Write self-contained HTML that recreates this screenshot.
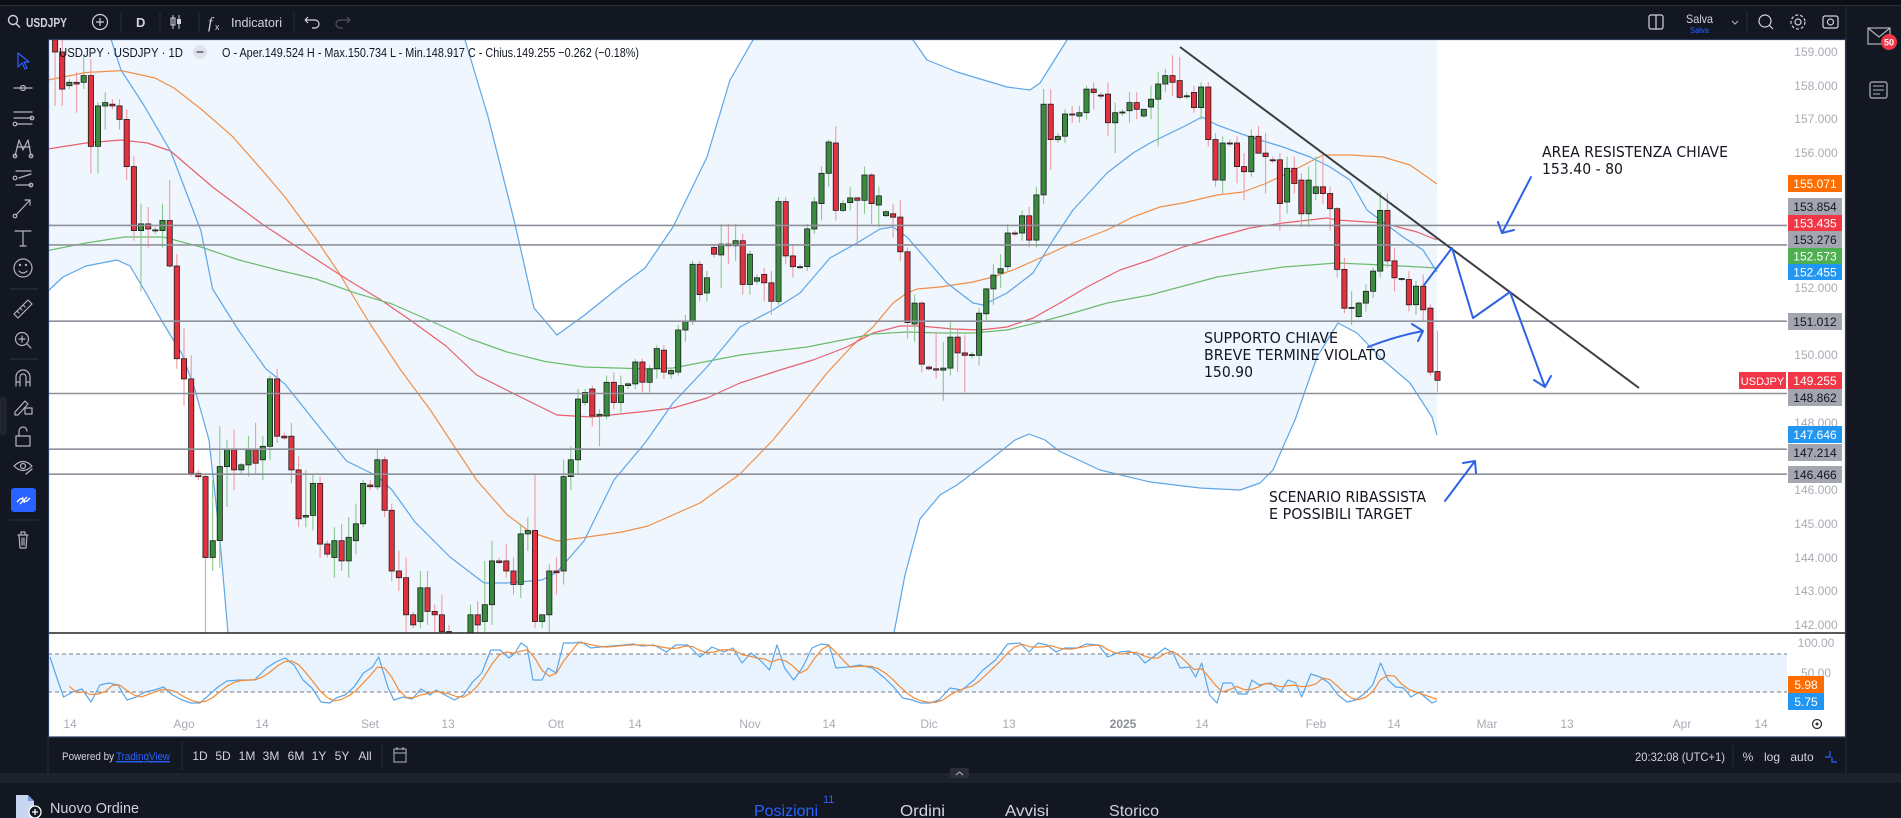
<!DOCTYPE html>
<html><head><meta charset="utf-8"><style>
html,body{margin:0;padding:0;background:#131722;overflow:hidden;width:1901px;height:818px}
svg{display:block}
.ui{font-family:"Liberation Sans",sans-serif}
.ax{font-family:"Liberation Sans",sans-serif;font-size:12px;fill:#a9acb4}
.an{font-family:"DejaVu Sans","Liberation Sans",sans-serif;font-size:15px;fill:#131722}
</style></head><body>
<svg id="s" width="1901" height="818" viewBox="0 0 1901 818" xmlns="http://www.w3.org/2000/svg">
<defs>
<clipPath id="mc"><rect x="48" y="39" width="1739" height="594"/></clipPath>
<clipPath id="oc"><rect x="48" y="634" width="1739" height="76"/></clipPath>
</defs>
<!-- backgrounds -->
<rect x="0" y="0" width="1901" height="818" fill="#131722"/>
<rect x="0" y="0" width="1901" height="5" fill="#0c0f16"/>
<line x1="0" y1="5.5" x2="1901" y2="5.5" stroke="#2a2e39"/>
<rect x="0" y="773" width="1901" height="10" fill="#1e222d"/>
<line x1="1846" y1="5" x2="1846" y2="773" stroke="#2a2e39"/>
<!-- chart area -->
<rect x="48" y="39" width="1797" height="698" fill="#ffffff"/>
<!-- BB fill -->
<polygon fill="#eff6fd" clip-path="url(#mc)" points="48,40 455,40 465,40 488,116.5 515,224 534,308 557,335 584,315.5 622,285 645,268 673,227 707,157 730,80 753,40 913,40 927,60 957,72 1007,87 1030,90 1040,83 1067,40 1437,40 1437,435 1432,417 1410,383 1383,360 1357,333 1338,323 1317,357 1295,420 1283,447 1273,470 1260,483 1240,490 1200,488 1150,482 1100,470 1059,451 1045,440 1029,434 1015,440 990,460 957,485 940,495 920,519 905,575 894,633 228,633 220,540 209,440 195,390 182,354 163,323 143.7,289 130,266 117,260 86,266 63,277 48,291"/>
<g clip-path="url(#mc)" fill="none" stroke-width="1.2" stroke-linejoin="round">
<polyline stroke="#f28f45" points="48,80 86,72.5 121,70.6 155,78 174,88 201,109 232,136 262,170 285,197 316,239 339,273 369.5,323 400,369 431,411 454,446 476.6,480 507,514.6 530,532 557,541 584,537.5 622,532 648,526 700,503 740,474 773,440 800,407 827,373 853,345 873,327 893,303 907,293 917,289 940,287 973,282 993,277 1013,270 1040,258 1073,243 1107,230 1133,217 1160,207 1183,203 1217,195 1243,192 1267,183 1300,167 1323,155 1350,155 1383,157 1410,165 1437,184"/>
<polyline stroke="#e8606c" points="48,149 86,143 121,140 147.5,143 170.5,151 212.6,187 262,224 308,254 346.5,279 381,300 411.6,321 446,346 476.6,375 522.5,398 557,415 591,417 640,412 673,408 707,398 740,383 780,370 813,360 847,347 873,333 900,326 920,326 953,329 980,330 1007,327 1033,318 1060,303 1087,287 1120,270 1150,260 1183,247 1217,237 1250,228 1283,223 1327,218 1337,220 1383,223 1417,232 1437,240"/>
<polyline stroke="#6dbb6f" points="48,250.5 86,243 124.5,237 163,237 201,247 239,260 277.6,270 316,279 354,292.6 392,304 431,321 469,338.5 507,352 545,361.5 584,367 648,369 673,368 740,355 807,347 873,334 907,332 940,333 973,333 1007,330 1040,322 1073,313 1107,303 1150,295 1217,277 1283,267 1337,263 1383,265 1437,268"/>
<g stroke="#5ea6e8">
<polyline points="108,30 121,70 143.7,105 170.5,151 201,231 212.6,289 239,331 266,369 285,384 316,423 346.5,461 377,476 392,490 415,522 450,557 484,583 507,583 542,580 557,572 584,541 614,480 645,443 673,403 707,367 740,327 773,310 800,293 830,258 857,243 880,229 893,227 907,237 927,260 947,283 973,303 983,305 1007,293 1033,273 1053,240 1073,210 1107,173 1133,153 1150,143 1183,127 1202,117 1217,125 1250,137 1283,147 1310,157 1330,167 1350,180 1367,210 1383,222 1403,237 1423,250 1437,272"/>
<polyline points="460,30 465,40 488,116.5 515,224 534,308 557,335 584,315.5 622,285 645,268 673,227 707,157 730,80 753,40 758,30"/>
<polyline points="908,30 913,40 927,60 957,72 1007,87 1030,90 1040,83 1067,40 1073,30"/>
<polyline points="48,291 63,277 86,266 117,260 130,266 143.7,289 163,323 182,354 195,390 209,440 220,540 228,633 230,650"/>
<polyline points="891,650 894,633 905,575 920,519 940,495 957,485 990,460 1015,440 1029,434 1045,440 1059,451 1100,470 1150,482 1200,488 1240,490 1260,483 1273,470 1283,447 1295,420 1317,357 1338,323 1357,333 1383,360 1410,383 1432,417 1437,435"/>
</g>
</g>
<g id="candles" clip-path="url(#mc)"></g>
<!-- horizontal levels -->
<g stroke="#8e919a" stroke-width="1.6" clip-path="url(#mc)">
<line x1="48" x2="1787" y1="225.4" y2="225.4"/>
<line x1="48" x2="1787" y1="244.9" y2="244.9"/>
<line x1="48" x2="1787" y1="321.2" y2="321.2"/>
<line x1="48" x2="1787" y1="393.5" y2="393.5"/>
<line x1="48" x2="1787" y1="449.2" y2="449.2"/>
<line x1="48" x2="1787" y1="474.2" y2="474.2"/>
</g>
<!-- trend line -->
<line x1="1180" y1="47" x2="1639" y2="388" stroke="#3b3d44" stroke-width="2"/>
<!-- blue annotation arrows -->
<g fill="none" stroke="#2f63e6" stroke-width="2" stroke-linejoin="round" stroke-linecap="round">
<path d="M1424,285 L1452,248 L1473,318 L1510,292 L1545,387 M1534,380 L1545,387 L1551,376"/>
<path d="M1531,177 L1502,233 M1498,222 L1502,233 L1514,230"/>
<path d="M1368,347 Q1396,336 1423,331 M1412,324 L1423,331 L1418,341"/>
<path d="M1445,501 L1475,461 M1463,463 L1475,461 L1476,473"/>
</g>
<!-- annotation text -->
<text class="an" x="1542" y="157" textLength="186" lengthAdjust="spacingAndGlyphs">AREA RESISTENZA CHIAVE</text>
<text class="an" x="1542" y="174" textLength="81" lengthAdjust="spacingAndGlyphs">153.40 - 80</text>
<text class="an" x="1204" y="343" textLength="134" lengthAdjust="spacingAndGlyphs">SUPPORTO CHIAVE</text>
<text class="an" x="1204" y="360" textLength="182" lengthAdjust="spacingAndGlyphs">BREVE TERMINE VIOLATO</text>
<text class="an" x="1204" y="377" textLength="49" lengthAdjust="spacingAndGlyphs">150.90</text>
<text class="an" x="1269" y="502" textLength="157" lengthAdjust="spacingAndGlyphs">SCENARIO RIBASSISTA</text>
<text class="an" x="1269" y="519" textLength="143" lengthAdjust="spacingAndGlyphs">E POSSIBILI TARGET</text>
<!-- legend -->
<text class="ui" x="59" y="57" font-size="13" fill="#131722" textLength="124" lengthAdjust="spacingAndGlyphs">USDJPY · USDJPY · 1D</text>
<circle cx="200" cy="52" r="7" fill="#e0e3eb"/><line x1="196.5" x2="203.5" y1="52" y2="52" stroke="#787b86" stroke-width="2"/>
<text class="ui" x="222" y="57" font-size="13" fill="#131722" textLength="417" lengthAdjust="spacingAndGlyphs">O - Aper.149.524 H - Max.150.734 L - Min.148.917 C - Chius.149.255 −0.262 (−0.18%)</text>
<!-- pane separator -->
<line x1="48" x2="1845" y1="633" y2="633" stroke="#222" stroke-width="1.6"/>
<!-- oscillator -->
<rect x="48" y="654" width="1739" height="38" fill="#e8f3fe"/>
<line x1="48" x2="1787" y1="654" y2="654" stroke="#787b86" stroke-dasharray="4 3"/>
<line x1="48" x2="1787" y1="692" y2="692" stroke="#787b86" stroke-dasharray="4 3"/>
<g clip-path="url(#oc)" fill="none" stroke-width="1.2" stroke-linejoin="round">
<polyline id="kline" stroke="#5aa6ea" points="50,657 57.6,680 63.6,697 72.7,692 82,689 91,702 100,685 109,683 118,685 127,700 136,697 145,692 154.5,690 163.6,687 172.7,695 182,700 191,703 200,703 209,695 218,687 227,681 239,680 254.5,680 266.6,668 275.7,662 285,658 294,665 303,680 312,688 321,702 330,703 336,698 345,695 354,687 363.5,673 372.6,667 378.7,657 387.8,687 393.8,700 403,697 412,699 421,689 430,695 436,690 445,695 454.4,700 463.5,695 472.6,682 481.7,673 490.8,650 500,650 509,658 515,653 521,643 527,647 533,680 542,680 548,668 556,673 563.5,643 572.6,643 581.6,642 590.7,648 599.8,647 612,646 624,645 633,644 642,646 654,645 666.5,652 675.6,645 687.7,645 700,657 712,647 724,652 733,648 742,663 751,653 760,660 769.5,670 777,645 784.6,668 793.7,680 802.8,667 812,648 821,644 829,645 836,668 848,667 860,665 872.5,668 884.6,678 893.7,687 902.7,698 912,700 921,703 930,703 939,700 950,688 962,690 974,680 983,670 995.5,660 1007.6,644 1020,643 1029,652 1038,643 1047,645 1056,652 1065,648 1077,648 1086,644 1098.6,645 1107.7,657 1120,652 1129,651 1138,655 1145,663 1156,655 1165,648 1173,653 1180,668 1189.5,667 1195.6,677 1201.7,663 1209.5,695 1217,703 1223,683 1232,683 1238,694 1247,694 1252,680 1259,685 1271,683 1280.5,692 1288,680 1295.7,683 1301.7,697 1310.8,674 1320,677 1329,683 1338,695 1347,702 1356,700 1365,693 1372.7,685 1380.6,663 1388,680 1395.7,687 1403.6,688 1411,697 1419,692 1426,698 1432,703 1437,701"/>
<polyline id="dline" stroke="#f38b37"/>
</g>
<!-- price axis labels -->
<g class="ax" text-anchor="middle">
<text x="1816" y="56">159.000</text>
<text x="1816" y="90">158.000</text>
<text x="1816" y="123">157.000</text>
<text x="1816" y="157">156.000</text>
<text x="1816" y="292">152.000</text>
<text x="1816" y="359">150.000</text>
<text x="1816" y="427">148.000</text>
<text x="1816" y="494">146.000</text>
<text x="1816" y="528">145.000</text>
<text x="1816" y="562">144.000</text>
<text x="1816" y="595">143.000</text>
<text x="1816" y="629">142.000</text>
<text x="1816" y="647">100.00</text>
<text x="1816" y="677">50.00</text>
</g>
<g class="ui" font-size="12" text-anchor="middle">
<rect x="1788" y="175" width="54" height="17" fill="#ff6d00"/><text x="1815" y="188" fill="#fff">155.071</text>
<rect x="1788" y="198" width="54" height="17" fill="#a3a6ae"/><text x="1815" y="211" fill="#131722">153.854</text>
<rect x="1788" y="215" width="54" height="16" fill="#f23645"/><text x="1815" y="227.5" fill="#fff">153.435</text>
<rect x="1788" y="231" width="54" height="17" fill="#a3a6ae"/><text x="1815" y="244" fill="#131722">153.276</text>
<rect x="1788" y="248" width="54" height="16" fill="#4caf50"/><text x="1815" y="260.5" fill="#fff">152.573</text>
<rect x="1788" y="264" width="54" height="16" fill="#2196f3"/><text x="1815" y="276.5" fill="#fff">152.455</text>
<rect x="1788" y="313" width="54" height="17" fill="#a3a6ae"/><text x="1815" y="326" fill="#131722">151.012</text>
<rect x="1788" y="372" width="54" height="17" fill="#f23645"/><text x="1815" y="385" fill="#fff">149.255</text>
<rect x="1739" y="372" width="47" height="17" fill="#f23645"/><text x="1762.5" y="385" fill="#fff" font-size="11">USDJPY</text>
<rect x="1788" y="389" width="54" height="17" fill="#a3a6ae"/><text x="1815" y="402" fill="#131722">148.862</text>
<rect x="1788" y="426" width="54" height="17" fill="#2196f3"/><text x="1815" y="439" fill="#fff">147.646</text>
<rect x="1788" y="444" width="54" height="17" fill="#a3a6ae"/><text x="1815" y="457" fill="#131722">147.214</text>
<rect x="1788" y="466" width="54" height="17" fill="#a3a6ae"/><text x="1815" y="479" fill="#131722">146.466</text>
<rect x="1788" y="676" width="36" height="17" fill="#ff6d00"/><text x="1806" y="689" fill="#fff">5.98</text>
<rect x="1788" y="693" width="36" height="17" fill="#2196f3"/><text x="1806" y="706" fill="#fff">5.75</text>
</g>
<!-- x axis labels -->
<g class="ax" text-anchor="middle">
<text x="70" y="728">14</text><text x="184" y="728">Ago</text><text x="262" y="728">14</text>
<text x="370" y="728">Set</text><text x="448" y="728">13</text><text x="556" y="728">Ott</text>
<text x="635" y="728">14</text><text x="750" y="728">Nov</text><text x="829" y="728">14</text>
<text x="929" y="728">Dic</text><text x="1009" y="728">13</text>
<text x="1123" y="728" font-weight="bold" fill="#8a8d95">2025</text>
<text x="1202" y="728">14</text><text x="1316" y="728">Feb</text><text x="1394" y="728">14</text>
<text x="1487" y="728">Mar</text><text x="1567" y="728">13</text><text x="1682" y="728">Apr</text><text x="1761" y="728">14</text>
</g>
<circle cx="1817" cy="724" r="4.5" fill="none" stroke="#333" stroke-width="1.3"/><circle cx="1817" cy="724" r="1.5" fill="#333"/>
<!-- chart border -->
<rect x="48.5" y="39.5" width="1797" height="697.5" fill="none" stroke="#2b3a5e" stroke-width="1.2"/>
<!-- top toolbar -->
<g class="ui" fill="#d1d4dc">
<circle cx="13" cy="20" r="4.5" fill="none" stroke="#d1d4dc" stroke-width="1.4"/><line x1="16" y1="23.5" x2="20" y2="27.5" stroke="#d1d4dc" stroke-width="1.4"/>
<text x="26" y="27" font-size="13" font-weight="bold" textLength="41" lengthAdjust="spacingAndGlyphs">USDJPY</text>
<circle cx="100" cy="22" r="7.5" fill="none" stroke="#d1d4dc" stroke-width="1.2"/><path d="M96,22 H104 M100,18 V26" stroke="#d1d4dc" stroke-width="1.2"/>
<text x="136" y="27" font-size="13" font-weight="bold">D</text>
<path d="M173,15 V29 M179,15 V29" stroke="#d1d4dc" stroke-width="1"/><rect x="171" y="18" width="4" height="7" fill="none" stroke="#d1d4dc"/><rect x="177" y="19" width="4" height="5" fill="#d1d4dc"/>
<text x="208" y="28" font-size="16" font-style="italic" font-family="Liberation Serif,serif">f</text><text x="215" y="30" font-size="9">x</text>
<text x="231" y="27" font-size="13" textLength="51" lengthAdjust="spacingAndGlyphs">Indicatori</text>
<path d="M305,20 h10 a4,4 0 0 1 0,8 h-3 M305,20 l3,-3 M305,20 l3,3" fill="none" stroke="#d1d4dc" stroke-width="1.2"/>
<path d="M350,20 h-10 a4,4 0 0 0 0,8 h3 M350,20 l-3,-3 M350,20 l-3,3" fill="none" stroke="#50535e" stroke-width="1.2"/>
<g stroke="#2a2e39"><line x1="121" x2="121" y1="12" y2="32"/><line x1="160" x2="160" y1="12" y2="32"/><line x1="199" x2="199" y1="12" y2="32"/><line x1="294" x2="294" y1="12" y2="32"/><line x1="1747" x2="1747" y1="12" y2="32"/></g>
<rect x="1649" y="15" width="14" height="14" rx="2" fill="none" stroke="#d1d4dc" stroke-width="1.2"/><line x1="1656" x2="1656" y1="15" y2="29" stroke="#d1d4dc" stroke-width="1.2"/>
<text x="1686" y="23" font-size="12" textLength="27" lengthAdjust="spacingAndGlyphs">Salva</text>
<text x="1690" y="33" font-size="8" fill="#2962ff" textLength="19" lengthAdjust="spacingAndGlyphs">Salva</text>
<path d="M1732,21 l3,3 l3,-3" fill="none" stroke="#b2b5be"/>
<circle cx="1765" cy="21" r="6" fill="none" stroke="#d1d4dc" stroke-width="1.2"/><line x1="1769" y1="25" x2="1773" y2="29" stroke="#d1d4dc" stroke-width="1.2"/>
<circle cx="1798" cy="22" r="3" fill="none" stroke="#d1d4dc" stroke-width="1.2"/><circle cx="1798" cy="22" r="7" fill="none" stroke="#d1d4dc" stroke-width="1.2" stroke-dasharray="3 2"/>
<rect x="1823" y="16" width="15" height="12" rx="2" fill="none" stroke="#d1d4dc" stroke-width="1.2"/><circle cx="1830.5" cy="22" r="3" fill="none" stroke="#d1d4dc" stroke-width="1.2"/>
</g>
<!-- right sidebar -->
<rect x="1868" y="28" width="22" height="16" fill="none" stroke="#b2b5be" stroke-width="1.2"/><path d="M1868,28 l11,9 l11,-9" fill="none" stroke="#b2b5be" stroke-width="1.2"/>
<circle cx="1889" cy="42" r="8" fill="#f23645"/><text x="1889" y="45.5" class="ui" font-size="9" font-weight="bold" fill="#fff" text-anchor="middle">50</text>
<rect x="1870" y="82" width="17" height="16" rx="2" fill="none" stroke="#b2b5be" stroke-width="1.2"/><path d="M1873,86 h11 M1873,90 h11 M1873,94 h7" stroke="#b2b5be"/>
<!-- left toolbar -->
<g fill="none" stroke="#b2b5be" stroke-width="1.2" stroke-linecap="round" stroke-linejoin="round">
<path d="M18,53 L18,67 L22,63 L25,69 L27,68 L24,62 L29,62 Z" stroke="#2962ff"/>
<path d="M14,88 H32"/><circle cx="23" cy="88" r="2.5"/>
<path d="M14,112 H32 M14,118 H32 M17,124 H32"/><circle cx="32" cy="118" r="1.8"/><circle cx="15" cy="124" r="1.8"/>
<path d="M15,156 L19,140 L23,150 L28,140 L31,156 M17,147 H30"/><circle cx="15" cy="156" r="1.8"/><circle cx="31" cy="156" r="1.8"/>
<path d="M16,171 H31 M19,178 L31,174 M16,185 H31"/><circle cx="15" cy="178" r="1.8"/><circle cx="31" cy="185" r="1.8"/>
<path d="M16,215 L30,200 M25,200 H30 V205"/><circle cx="15" cy="216" r="1.8"/>
<path d="M15,231 H31 M23,231 V246 M20,246 H26"/>
<circle cx="23" cy="268" r="9"/><path d="M19,271 Q23,275 27,271"/><circle cx="20" cy="265" r="0.6"/><circle cx="26" cy="265" r="0.6"/>
<path d="M10,289 H38 M10,359 H38 M10,520 H38" stroke="#2a2e39"/>
<path d="M14,314 L28,300 L32,304 L18,318 Z M20,308 l2,2 M23,305 l2,2 M17,311 l2,2"/>
<circle cx="22" cy="339" r="6.5"/><path d="M22,336 V342 M19,339 H25 M27,344 L31,348"/>
<path d="M16,386 V377 A7,7 0 0 1 30,377 V386 M16,382 H20 M26,382 H30 M20,386 V377 A3,3 0 0 1 26,377 V386"/>
<path d="M15,412 L25,401 L28,404 L18,415 L15,415 Z"/><rect x="25" y="408" width="7" height="6"/>
<rect x="16" y="436" width="14" height="10"/><path d="M19,436 V431 A4,4 0 0 1 27,431"/>
<path d="M14,466 Q23,457 32,466 Q23,475 14,466 Z"/><circle cx="23" cy="466" r="2.5"/><path d="M26,474 L32,469"/>
<path d="M18,535 H28 M21,535 V532 H25 V535 M19,535 L20,548 H26 L27,535 M22,538 V545 M24,538 V545"/>
</g>
<rect x="11" y="488" width="25" height="24" rx="3" fill="#2962ff"/>
<path d="M20,504 L27,497 M17,502 l3,-3 a3,3 0 0 1 4,4 M30,498 l-3,3 a3,3 0 0 1 -4,-4" fill="none" stroke="#fff" stroke-width="1.3"/>
<path d="M0,398 h3 a3,3 0 0 1 3,3 v30 a3,3 0 0 1 -3,3 h-3 Z" fill="#1e222d" stroke="#2a2e39"/>
<!-- bottom toolbar -->
<g class="ui" fill="#d1d4dc">
<line x1="48" x2="48" y1="737" y2="773" stroke="#2a2e39"/>
<line x1="182" x2="182" y1="741" y2="770" stroke="#2a2e39"/>
<line x1="382" x2="382" y1="745" y2="767" stroke="#2a2e39"/>
<line x1="1733" x2="1733" y1="745" y2="767" stroke="#2a2e39"/>
<text x="62" y="760" font-size="11" textLength="52" lengthAdjust="spacingAndGlyphs">Powered by</text>
<text x="116" y="760" font-size="11" fill="#2962ff" text-decoration="underline" textLength="54" lengthAdjust="spacingAndGlyphs">TradingView</text>
<line x1="116" x2="170" y1="762" y2="762" stroke="#2962ff" stroke-width="0.8"/>
<g font-size="12" text-anchor="middle">
<text x="200" y="760">1D</text><text x="223" y="760">5D</text><text x="247" y="760">1M</text><text x="271" y="760">3M</text><text x="296" y="760">6M</text><text x="319" y="760">1Y</text><text x="342" y="760">5Y</text><text x="365" y="760">All</text>
</g>
<rect x="394" y="749" width="12" height="13" fill="none" stroke="#b2b5be"/><path d="M394,753 h12 M397,747 v3 M403,747 v3" stroke="#b2b5be"/>
<text x="1635" y="761" font-size="12" textLength="90" lengthAdjust="spacingAndGlyphs">20:32:08 (UTC+1)</text>
<text x="1748" y="761" font-size="12" text-anchor="middle">%</text>
<text x="1772" y="761" font-size="12" text-anchor="middle">log</text>
<text x="1802" y="761" font-size="12" text-anchor="middle">auto</text>
<path d="M1825,757 h5 v-6 M1832,757 v5 h5" fill="none" stroke="#2962ff" stroke-width="1.2"/>
<rect x="950" y="768" width="19" height="10" rx="2" fill="#2a2e39"/><path d="M956,775 l3.5,-3 l3.5,3" fill="none" stroke="#b2b5be"/>
</g>
<!-- bottom panel -->
<g class="ui">
<path d="M16,795 h12 l6,6 v17 h-18 Z" fill="#c9d6f2"/><path d="M28,795 v6 h6" fill="#7d9ae0"/>
<circle cx="35" cy="812" r="6" fill="#131722" stroke="#ffffff" stroke-width="1.3"/><path d="M32,812 h6 M35,809 v6" stroke="#fff" stroke-width="1.3"/>
<text x="50" y="813" font-size="15" fill="#d1d4dc" textLength="89" lengthAdjust="spacingAndGlyphs">Nuovo Ordine</text>
<text x="754" y="816" font-size="16" fill="#2962ff" textLength="64" lengthAdjust="spacingAndGlyphs">Posizioni</text>
<text x="823" y="803" font-size="11" fill="#2962ff">11</text>
<text x="900" y="816" font-size="16" fill="#d1d4dc" textLength="45" lengthAdjust="spacingAndGlyphs">Ordini</text>
<text x="1005" y="816" font-size="16" fill="#d1d4dc" textLength="44" lengthAdjust="spacingAndGlyphs">Avvisi</text>
<text x="1109" y="816" font-size="16" fill="#d1d4dc" textLength="50" lengthAdjust="spacingAndGlyphs">Storico</text>
</g>
</svg>
<script>
(function(){
var D=[[161.7,161.8,161.2,161.6],[161.6,161.8,157.4,159.0],[159.0,159.4,157.4,157.9],[158.0,158.2,157.9,158.1],[158.1,158.4,157.2,158.05],[158.1,158.9,157.9,158.3],[158.3,158.8,155.4,156.2],[156.2,157.5,155.4,157.4],[157.4,157.8,156.7,157.5],[157.45,157.6,157.3,157.4],
[157.4,157.6,156.7,157.0],[157.0,157.3,155.2,155.6],[155.6,155.9,153.4,153.7],[153.7,154.5,151.9,153.9],[153.9,154.4,153.2,153.75],[153.7,153.8,153.6,153.72],[153.7,154.5,153.2,154.0],[154.0,155.2,152.6,152.65],[152.65,153.0,149.6,149.9],[149.9,150.8,148.5,149.3],
[149.3,150.0,146.4,146.5],[146.5,146.6,146.3,146.4],[146.4,146.5,141.7,144.0],[144.0,146.3,143.6,144.5],[144.5,147.9,143.7,146.7],[146.7,147.5,145.5,147.2],[147.2,147.8,146.0,146.6],[146.6,146.8,146.5,146.75],[146.75,147.6,146.4,147.2],[147.2,148.0,146.5,146.8],
[146.9,147.6,146.3,147.3],[147.3,149.4,146.9,149.3],[149.3,149.6,147.4,147.6],[147.6,147.7,147.5,147.55],[147.6,148.0,146.2,146.6],[146.6,147.0,144.9,145.15],[145.2,146.6,144.9,145.25],[145.25,146.5,144.8,146.2],[146.2,146.4,144.0,144.4],[144.4,144.5,144.0,144.1],
[144.0,144.9,143.4,144.5],[144.5,145.0,143.6,143.9],[143.9,145.2,143.4,144.6],[144.5,145.6,144.1,145.0],[145.0,146.3,144.9,146.2],[146.15,146.3,146.0,146.1],[146.1,147.2,146.0,146.9],[146.9,147.0,145.2,145.4],[145.4,145.6,143.3,143.6],[143.6,144.2,143.0,143.4],
[143.4,144.0,141.8,142.3],[142.3,142.4,141.9,142.0],[142.1,143.6,141.9,143.1],[143.1,143.6,142.0,142.4],[142.4,142.6,140.7,142.3],[142.3,142.9,141.5,141.8],[141.8,142.0,140.3,140.85],[140.8,141.0,140.6,140.7],[140.7,141.0,139.6,140.6],[140.6,142.6,140.4,142.3],
[142.3,142.7,140.5,142.0],[142.1,143.9,141.6,142.6],[142.6,144.5,142.0,143.9],[143.9,144.0,143.8,143.85],[143.9,144.4,143.4,143.6],[143.6,144.0,142.9,143.2],[143.2,145.0,142.8,144.7],[144.7,145.2,144.2,144.8],[144.8,146.5,141.9,142.1],[142.1,142.3,141.9,142.3],
[142.3,143.8,141.7,143.6],[143.6,144.0,142.9,143.55],[143.6,146.9,143.2,146.4],[146.4,147.3,146.0,146.9],[146.9,149.0,146.5,148.7],[148.6,149.0,148.5,148.9],[149.0,149.1,147.9,148.2],[148.2,148.4,147.3,148.25],[148.2,149.4,148.1,149.2],[149.2,149.5,148.4,148.6],
[148.6,149.4,148.3,149.1],[149.1,149.2,149.0,149.15],[149.15,149.9,149.0,149.8],[149.8,149.9,148.9,149.2],[149.2,149.7,148.9,149.6],[149.6,150.3,149.3,150.2],[150.15,150.3,149.3,149.5],[149.45,149.6,149.3,149.55],[149.5,150.9,149.4,150.75],[150.75,151.2,150.4,151.0],
[151.0,152.8,150.9,152.7],[152.7,152.8,151.6,151.8],[151.85,152.5,151.6,152.3],[153.2,153.3,152.9,153.0],[152.98,153.9,152.0,153.3],[153.3,153.9,152.7,153.25],[153.25,153.9,152.8,153.4],[153.4,153.6,151.8,152.1],[152.1,153.1,151.8,153.0],[152.2,152.4,152.1,152.3],
[152.4,152.6,151.6,152.15],[152.15,152.5,151.2,151.6],[151.6,154.7,151.5,154.56],[154.56,154.7,152.7,152.95],[152.95,153.3,152.3,152.63],[152.6,152.7,152.55,152.63],[152.63,153.9,152.5,153.75],[153.75,154.7,153.6,154.55],[154.5,155.6,154.0,155.4],[155.4,156.4,155.0,156.33],
[156.3,156.8,154.0,154.3],[154.3,154.6,154.25,154.5],[154.53,155.0,154.3,154.67],[154.67,154.7,153.3,154.6],[154.6,155.6,154.2,155.35],[155.35,155.4,153.9,154.5],[154.46,155.0,153.8,154.73],[154.14,154.3,154.1,154.26],[154.2,154.5,153.5,154.1],[154.1,154.6,152.8,153.07],
[153.07,153.2,150.5,150.97],[150.93,151.8,150.4,151.55],[151.55,151.6,149.5,149.74],[149.65,149.7,149.55,149.6],[149.6,150.7,149.3,149.56],[149.56,150.4,148.65,149.62],[149.62,151.0,149.4,150.54],[150.54,150.8,149.5,150.07],[150.07,150.6,148.9,150.0],[150.0,150.1,149.9,150.02],
[150.0,151.4,149.7,151.25],[151.23,152.0,151.0,151.97],[151.97,152.7,151.5,152.38],[152.44,153.0,152.0,152.57],[152.63,153.9,152.5,153.63],[153.63,153.7,153.55,153.6],[153.63,154.3,153.4,154.14],[154.14,154.4,153.2,153.42],[153.42,155.0,153.2,154.76],[154.76,157.9,154.5,157.45],
[157.45,157.9,155.5,156.4],[156.4,156.6,156.3,156.5],[156.5,157.3,156.3,157.16],[157.16,157.4,156.9,157.15],[157.1,157.4,156.9,157.2],[157.2,158.0,157.0,157.9],[157.9,158.1,157.3,157.8],[157.72,157.8,157.6,157.7],[157.75,158.1,156.5,156.9],[156.9,157.5,156.0,157.2],
[157.2,157.3,157.1,157.22],[157.26,157.8,156.9,157.5],[157.5,157.8,157.0,157.3],[157.1,157.3,157.05,157.3],[157.37,158.0,157.0,157.6],[157.6,158.4,156.2,158.05],[158.05,158.5,157.8,158.3],[158.3,158.9,157.7,158.1],[158.15,158.85,157.6,157.65],[157.7,157.8,157.6,157.7],
[157.8,158.0,157.2,157.35],[157.35,158.1,157.0,157.96],[157.96,158.1,156.2,156.4],[156.4,156.6,155.0,155.2],[155.2,156.5,154.8,156.3],[156.3,156.4,156.2,156.28],[156.3,156.5,155.1,155.6],[155.6,156.0,154.6,155.45],[155.45,156.7,155.3,156.5],[156.5,156.8,156.0,156.0],
[156.0,156.6,154.8,155.9],[155.8,155.9,155.7,155.78],[155.8,156.0,153.7,154.5],[154.55,155.9,154.2,155.55],[155.55,155.9,154.8,155.1],[155.2,155.4,153.8,154.2],[154.2,155.6,153.8,155.2],[154.8,155.9,154.6,155.0],[155.0,155.9,154.5,154.8],[154.8,155.0,153.7,154.35],
[154.35,154.4,152.3,152.55],[152.55,152.9,151.25,151.4],[151.4,151.9,150.9,151.42],[151.15,151.6,151.1,151.55],[151.55,152.1,151.3,151.9],[151.9,152.6,151.7,152.5],[152.5,154.85,152.3,154.3],[154.3,154.8,152.6,152.8],[152.8,153.2,151.9,152.3],[152.25,152.3,152.2,152.28],
[152.25,152.5,151.3,151.5],[151.5,152.2,151.2,152.05],[152.05,152.4,151.0,151.35],[151.4,151.5,149.4,149.5],[149.52,150.73,148.92,149.26]];
function X(i){return 184+(i-19)*7.163;}
function Y(p){return 52+(159-p)*33.7;}
var s='';
for(var i=0;i<D.length;i++){
 var o=D[i][0],h=D[i][1],l=D[i][2],c=D[i][3],x=X(i).toFixed(1),up=c>=o;
 s+='<line x1="'+x+'" x2="'+x+'" y1="'+Y(h).toFixed(1)+'" y2="'+Y(l).toFixed(1)+'" stroke="'+(up?'#8cc88f':'#f09aa2')+'" stroke-width="1.1"/>';
 var t=Math.min(Y(o),Y(c)),hh=Math.max(Math.abs(Y(o)-Y(c)),1);
 s+='<rect x="'+(X(i)-2.6).toFixed(1)+'" y="'+t.toFixed(1)+'" width="5.2" height="'+hh.toFixed(1)+'" fill="'+(up?'#3b8b3f':'#e3323f')+'" stroke="#1d1d1d" stroke-width="0.8"/>';
}
document.getElementById('candles').innerHTML=s;
var pts=document.getElementById('kline').getAttribute('points').trim().split(/\s+/).map(function(p){var a=p.split(',');return [+a[0],+a[1]];});
function ip(x){for(var k=0;k<pts.length-1;k++){if(x>=pts[k][0]&&x<=pts[k+1][0]){var t=(x-pts[k][0])/(pts[k+1][0]-pts[k][0]);return pts[k][1]+t*(pts[k+1][1]-pts[k][1]);}}return null;}
var v=[];for(var j=0;j<=194;j++){var xx=X(j);if(xx>pts[pts.length-1][0])xx=pts[pts.length-1][0];var y=ip(xx);if(y!==null)v.push([xx,y]);}
var out=[];for(var k=2;k<v.length;k++){out.push(v[k][0].toFixed(1)+','+((v[k][1]+v[k-1][1]+v[k-2][1])/3).toFixed(1));}
document.getElementById('dline').setAttribute('points',out.join(' '));
})();
</script>
</body></html>
